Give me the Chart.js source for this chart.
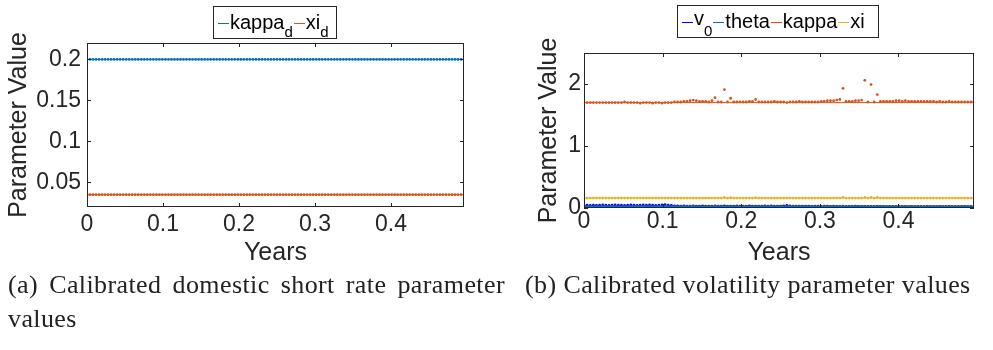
<!DOCTYPE html>
<html>
<head>
<meta charset="utf-8">
<script src="https://cdn.jsdelivr.net/npm/chart.js@4.4.1/dist/chart.umd.min.js"></script>
<style>
  body { margin: 0; background: #fff; width: 993px; height: 350px; position: relative; overflow: hidden;
         font-family: 'Liberation Sans', Arial, sans-serif; color: #262626; }
  canvas { position: absolute; top: 0; }
  .legend { position: absolute; border: 1px solid #262626; background: #fff; box-sizing: border-box;
            font-size: 20px; height: 33px; line-height: 31px; padding: 0 0 0 3px;
            white-space: nowrap; color: #000; }
  .legend i { display: inline-block; width: 11px; height: 1.5px; margin: 0 1px; vertical-align: middle; }
  .legend sub { font-size: 15px; vertical-align: -8px; line-height: 0; }
  .legend .raised { position: relative; top: -3px; }
  .caption { position: absolute; font-family: 'Liberation Serif', serif; font-size: 26px; line-height: 34px;
             letter-spacing: 0.4px; color: #222; }
</style>
</head>
<body>
<canvas id="rateChart" width="493" height="270" style="left:0"></canvas>
<canvas id="volChart" width="463" height="270" style="left:530px"></canvas>

<div class="legend" style="left:213px;top:6px;width:124px"><i style="background:#0072BD"></i>kappa<sub>d</sub><i style="background:#D95319"></i>xi<sub>d</sub></div>
<div class="legend" style="left:677px;top:5px;width:202px"><i style="background:#0000FF"></i><span class="raised">v</span><sub>0</sub><i style="background:#0072BD"></i>theta<i style="background:#D95319"></i>kappa<i style="background:#EDB120"></i>xi</div>

<div class="caption" style="left:8px;top:268px;width:497px;text-align:justify">(a) Calibrated domestic short rate parameter values</div>
<div class="caption" style="left:525px;top:268px;width:462px">(b) Calibrated volatility parameter values</div>

<script>
// trading-day grid, half a year
const years = Array.from({ length: 126 }, (_, i) => i / 252);

const xTicks = [0, 0.1, 0.2, 0.3, 0.4];
const xTickLabels = ['0', '0.1', '0.2', '0.3', '0.4'];
const rateYTicks = [0.05, 0.1, 0.15, 0.2];
const rateYTickLabels = ['0.05', '0.1', '0.15', '0.2'];
const volYTicks = [0, 1, 2];
const volYTickLabels = ['0', '1', '2'];

// domestic short rate parameters (daily calibration)
const kappaD = [
  0.2,0.2,0.2,0.2,0.2,0.2,0.2,0.2,0.2,0.2, 0.2,0.2,0.2,0.2,0.2,0.2,0.2,0.2,0.2,0.2,
  0.2,0.2,0.2,0.2,0.2,0.2,0.2,0.2,0.2,0.2, 0.2,0.2,0.2,0.2,0.2,0.2,0.2,0.2,0.2,0.2,
  0.2,0.2,0.2,0.2,0.2,0.2,0.2,0.2,0.2,0.2, 0.2,0.2,0.2,0.2,0.2,0.2,0.2,0.2,0.2,0.2,
  0.2,0.2,0.2,0.2,0.2,0.2,0.2,0.2,0.2,0.2, 0.2,0.2,0.2,0.2,0.2,0.2,0.2,0.2,0.2,0.2,
  0.2,0.2,0.2,0.2,0.2,0.2,0.2,0.2,0.2,0.2, 0.2,0.2,0.2,0.2,0.2,0.2,0.2,0.2,0.2,0.2,
  0.2,0.2,0.2,0.2,0.2,0.2,0.2,0.2,0.2,0.2, 0.2,0.2,0.2,0.2,0.2,0.2,0.2,0.2,0.2,0.2,
  0.2,0.2,0.2,0.2,0.2,0.2
];
const xiD = [
  0.035,0.035,0.035,0.035,0.035,0.035,0.035,0.035,0.035,0.035, 0.035,0.035,0.035,0.035,0.035,0.035,0.035,0.035,0.035,0.035,
  0.035,0.035,0.035,0.035,0.035,0.035,0.035,0.035,0.035,0.035, 0.035,0.035,0.035,0.035,0.035,0.035,0.035,0.035,0.035,0.035,
  0.035,0.035,0.035,0.035,0.035,0.035,0.035,0.035,0.035,0.035, 0.035,0.035,0.035,0.035,0.035,0.035,0.035,0.035,0.035,0.035,
  0.035,0.035,0.035,0.035,0.035,0.035,0.035,0.035,0.035,0.035, 0.035,0.035,0.035,0.035,0.035,0.035,0.035,0.035,0.035,0.035,
  0.035,0.035,0.035,0.035,0.035,0.035,0.035,0.035,0.035,0.035, 0.035,0.035,0.035,0.035,0.035,0.035,0.035,0.035,0.035,0.035,
  0.035,0.035,0.035,0.035,0.035,0.035,0.035,0.035,0.035,0.035, 0.035,0.035,0.035,0.035,0.035,0.035,0.035,0.035,0.035,0.035,
  0.035,0.035,0.035,0.035,0.035,0.035
];
const kappaDLevel = 0.2;
const xiDLevel = 0.035;

// volatility parameters (daily calibration)
const v0 = [
  0.04,0.045,0.04,0.045,0.04,0.045,0.05,0.045,0.04,0.045, 0.05,0.045,0.045,0.04,0.045,0.05,0.045,0.04,0.045,0.05,
  0.045,0.05,0.045,0.04,0.045,0.05,0.055,0.045,0.04,0.035, 0.035,0.03,0.035,0.03,0.03,0.035,0.03,0.03,0.035,0.03,
  0.03,0.03,0.035,0.03,0.03,0.035,0.03,0.03,0.03,0.035, 0.03,0.03,0.03,0.035,0.03,0.03,0.03,0.03,0.035,0.03,
  0.035,0.03,0.03,0.03,0.035,0.04,0.035,0.03,0.03,0.03, 0.03,0.03,0.03,0.025,0.03,0.03,0.025,0.03,0.03,0.025,
  0.03,0.025,0.025,0.03,0.025,0.025,0.025,0.03,0.025,0.025, 0.025,0.025,0.025,0.025,0.025,0.025,0.025,0.02,0.025,0.025,
  0.025,0.02,0.025,0.025,0.02,0.025,0.02,0.025,0.02,0.02, 0.025,0.02,0.02,0.02,0.025,0.02,0.02,0.025,0.02,0.02,
  0.02,0.02,0.025,0.02,0.02,0.02
];
const theta = [
  0.02,0.02,0.02,0.02,0.02,0.02,0.02,0.02,0.02,0.02, 0.02,0.02,0.02,0.02,0.02,0.02,0.02,0.02,0.02,0.02,
  0.02,0.02,0.02,0.02,0.02,0.02,0.02,0.02,0.02,0.02, 0.02,0.02,0.02,0.02,0.02,0.02,0.02,0.02,0.02,0.02,
  0.02,0.02,0.02,0.02,0.02,0.02,0.02,0.02,0.02,0.02, 0.02,0.02,0.02,0.02,0.02,0.02,0.02,0.02,0.02,0.02,
  0.02,0.02,0.02,0.02,0.02,0.02,0.02,0.02,0.02,0.02, 0.02,0.02,0.02,0.02,0.02,0.02,0.02,0.02,0.02,0.02,
  0.02,0.02,0.02,0.02,0.02,0.02,0.02,0.02,0.02,0.02, 0.02,0.02,0.02,0.02,0.02,0.02,0.02,0.02,0.02,0.02,
  0.02,0.02,0.02,0.02,0.02,0.02,0.02,0.02,0.02,0.02, 0.02,0.02,0.02,0.02,0.02,0.02,0.02,0.02,0.02,0.02,
  0.02,0.02,0.02,0.02,0.02,0.02
];
const kappa = [
  1.70,1.70,1.70,1.70,1.70,1.70,1.70,1.70,1.70,1.70, 1.70,1.70,1.70,1.71,1.70,1.70,1.70,1.70,1.69,1.70,
  1.70,1.70,1.69,1.70,1.70,1.69,1.70,1.70,1.70,1.71, 1.71,1.71,1.72,1.72,1.73,1.74,1.73,1.72,1.72,1.72,
  1.71,1.73,1.78,1.71,1.71,1.91,1.71,1.77,1.71,1.71, 1.71,1.71,1.71,1.72,1.72,1.75,1.71,1.71,1.71,1.71,
  1.71,1.72,1.71,1.71,1.71,1.70,1.71,1.71,1.71,1.72, 1.71,1.71,1.71,1.71,1.71,1.71,1.72,1.72,1.73,1.73,
  1.73,1.74,1.75,1.93,1.72,1.72,1.72,1.73,1.73,1.74, 2.06,1.71,1.99,1.71,1.83,1.72,1.72,1.72,1.72,1.72,
  1.73,1.73,1.72,1.73,1.72,1.72,1.72,1.72,1.72,1.72, 1.72,1.72,1.72,1.71,1.72,1.71,1.71,1.72,1.71,1.71,
  1.71,1.71,1.71,1.71,1.71,1.72
];
const xi = [
  0.16,0.16,0.16,0.16,0.16,0.16,0.16,0.16,0.16,0.16, 0.16,0.16,0.16,0.16,0.16,0.16,0.16,0.16,0.16,0.16,
  0.16,0.16,0.16,0.16,0.16,0.16,0.16,0.16,0.16,0.16, 0.16,0.16,0.16,0.16,0.16,0.16,0.16,0.16,0.16,0.16,
  0.16,0.16,0.16,0.16,0.16,0.17,0.16,0.165,0.16,0.16, 0.16,0.16,0.16,0.16,0.16,0.165,0.16,0.16,0.16,0.16,
  0.16,0.16,0.16,0.16,0.16,0.16,0.16,0.16,0.16,0.16, 0.16,0.16,0.16,0.16,0.16,0.16,0.16,0.16,0.16,0.16,
  0.16,0.16,0.16,0.17,0.16,0.16,0.16,0.16,0.16,0.16, 0.17,0.16,0.17,0.16,0.17,0.16,0.16,0.16,0.16,0.16,
  0.16,0.16,0.16,0.16,0.16,0.16,0.16,0.16,0.16,0.16, 0.16,0.16,0.16,0.16,0.16,0.16,0.16,0.16,0.16,0.16,
  0.16,0.16,0.16,0.16,0.16,0.16
];
const v0Level = 0.03;
const thetaLevel = 0.02;
const kappaLevel = 1.70;
const xiLevel = 0.16;

const INK = '#262626';
const tickFont = { family: "'Liberation Sans', Arial, sans-serif", size: 23 };
const titleFont = { family: "'Liberation Sans', Arial, sans-serif", size: 25 };

/* MATLAB-style box with inward ticks on all four sides */
const boxPlugin = {
  id: 'box',
  afterDraw(chart) {
    const { ctx, chartArea: a, scales: { x, y } } = chart;
    ctx.save();
    ctx.strokeStyle = INK;
    ctx.lineWidth = 1;
    ctx.strokeRect(a.left + 0.5, a.top + 0.5, a.right - a.left - 1, a.bottom - a.top - 1);
    ctx.beginPath();
    x.ticks.forEach(t => {
      const px = Math.round(x.getPixelForValue(t.value)) + 0.5;
      ctx.moveTo(px, a.bottom); ctx.lineTo(px, a.bottom - 4);
      ctx.moveTo(px, a.top); ctx.lineTo(px, a.top + 4);
    });
    y.ticks.forEach(t => {
      const py = Math.round(y.getPixelForValue(t.value)) + 0.5;
      ctx.moveTo(a.left, py); ctx.lineTo(a.left + 4, py);
      ctx.moveTo(a.right, py); ctx.lineTo(a.right - 4, py);
    });
    ctx.stroke();
    ctx.restore();
  }
};

function dots(values, color) {
  return {
    data: values.map((v, i) => ({ x: years[i], y: v })),
    showLine: false,
    pointRadius: 1.4,
    pointBorderWidth: 0,
    pointBackgroundColor: color
  };
}

function level(value, color) {
  return {
    data: [{ x: years[0], y: value }, { x: years[years.length - 1], y: value }],
    showLine: true,
    borderColor: color,
    borderWidth: 1,
    pointRadius: 0
  };
}

function buildChart(id, datasets, opts) {
  new Chart(document.getElementById(id), {
    type: 'scatter',
    data: { datasets },
    plugins: [boxPlugin],
    options: {
      responsive: false,
      animation: false,
      devicePixelRatio: 1,
      layout: { padding: { top: opts.top, right: opts.right, left: 0, bottom: 0 } },
      plugins: { legend: { display: false }, tooltip: { enabled: false } },
      scales: {
        x: {
          type: 'linear',
          min: 0,
          max: years[years.length - 1],
          afterBuildTicks: s => { s.ticks = xTicks.map(v => ({ value: v })); },
          afterFit: s => { s.height = opts.xHeight; },
          grid: { display: false, drawTicks: false },
          border: { display: false },
          ticks: { color: INK, font: tickFont, padding: opts.xPad, maxRotation: 0,
                   callback: (v, i) => xTickLabels[i] },
          title: { display: true, text: 'Years', color: INK, font: titleFont, padding: { top: 0, bottom: 2 } }
        },
        y: {
          min: opts.yMin,
          max: opts.yMax,
          afterBuildTicks: s => { s.ticks = opts.yTicks.map(v => ({ value: v })); },
          afterFit: s => { s.width = opts.yWidth; },
          grid: { display: false, drawTicks: false },
          border: { display: false },
          ticks: { color: INK, font: tickFont, padding: opts.yPad,
                   callback: (v, i) => opts.yLabels[i] },
          title: { display: true, text: 'Parameter Value', color: INK, font: titleFont, padding: { top: 4, bottom: 0 } }
        }
      }
    }
  });
}

buildChart('rateChart', [
  level(kappaDLevel, '#0072BD'), dots(kappaD, '#0072BD'),
  level(xiDLevel, '#D95319'), dots(xiD, '#D95319')
], { top: 43, right: 29, yWidth: 87, xHeight: 63, xPad: 4, yPad: 6,
     yMin: 0.02, yMax: 0.22, yTicks: rateYTicks, yLabels: rateYTickLabels });

buildChart('volChart', [
  level(xiLevel, '#EDB120'), dots(xi, '#EDB120'),
  level(kappaLevel, '#D95319'), dots(kappa, '#D95319'),
  level(thetaLevel, '#0072BD'), dots(theta, '#0072BD'),
  level(v0Level, '#0000FF'), dots(v0, '#0000FF')
], { top: 53, right: 19, yWidth: 54, xHeight: 62, xPad: 0, yPad: 3,
     yMin: 0, yMax: 2.5, yTicks: volYTicks, yLabels: volYTickLabels });
</script>
</body>
</html>
